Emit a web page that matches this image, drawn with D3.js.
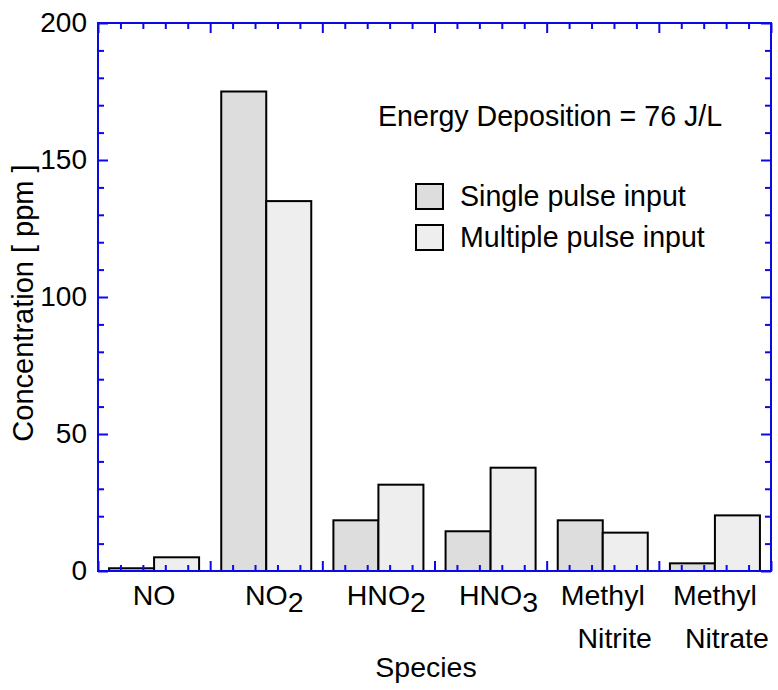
<!DOCTYPE html>
<html><head><meta charset="utf-8">
<script src="https://cdn.jsdelivr.net/npm/d3@7"></script>
<style>body{margin:0;background:#fff} svg{display:block} text{font-family:"Liberation Sans",Arial,Helvetica,sans-serif;fill:#000}</style>
</head><body>
<svg id="chart" width="778" height="690"></svg>
<script>
const categories = ["NO", "NO2", "HNO2", "HNO3", "Methyl Nitrite", "Methyl Nitrate"];
const catBase = ["NO", "NO", "HNO", "HNO", "Methyl", "Methyl"];
const catSub = ["", "2", "2", "3", "", ""];
const catLine2 = ["", "", "", "", "Nitrite", "Nitrate"];
const seriesNames = ["Single pulse input", "Multiple pulse input"];
const singlePulse = [1, 175, 18.5, 14.5, 18.5, 2.8];
const multiplePulse = [5, 135, 31.5, 37.7, 14, 20.3];
const yTicks = [0, 50, 100, 150, 200];
const yMinorTicks = d3.range(0, 201, 10);
const annotation = "Energy Deposition = 76 J/L";
const xTitle = "Species";
const yTitle = "Concentration [ ppm ]";

const svg = d3.select("#chart");
const L = 98, R = 771, T = 23, B = 571;
const blue = "#0a0ae6";
const fills = ["#dddddd", "#eeeeee"];
const series = [singlePulse, multiplePulse];

const y = d3.scaleLinear().domain([0, 200]).range([B, T]);
const x0 = d3.scaleBand().domain(categories).range([L, R]).padding(0);
const x1 = d3.scaleBand().domain([0, 1]).range([0, x0.bandwidth()]).paddingInner(0).paddingOuter(0.246);
const xl = d3.scaleLinear().domain([0, categories.length]).range([L, R]);

// bars
const g = svg.append("g");
categories.forEach((c, i) => {
  series.forEach((s, k) => {
    g.append("rect")
      .attr("x", x0(c) + x1(k))
      .attr("y", y(s[i]))
      .attr("width", x1.bandwidth())
      .attr("height", y(0) - y(s[i]))
      .attr("fill", fills[k])
      .attr("stroke", "#000")
      .attr("stroke-width", 2);
  });
});

// ticks
const xMajor = d3.range(0, categories.length + 1);
const xMinor = d3.range(0, categories.length * 5 + 1).map(d => d / 5).filter(d => Math.abs(d - Math.round(d)) > 1e-9);
const yMinor = yMinorTicks.filter(d => d % 50 !== 0);

function styleAxis(sel) {
  sel.select(".domain").remove();
  sel.selectAll("line").attr("stroke", blue).attr("stroke-width", 2);
}
svg.append("g").attr("transform", `translate(0,${B})`).call(d3.axisBottom(xl).tickValues(xMajor).tickSize(-10).tickFormat("")).call(styleAxis);
svg.append("g").attr("transform", `translate(0,${B})`).call(d3.axisBottom(xl).tickValues(xMinor).tickSize(-6).tickFormat("")).call(styleAxis);
svg.append("g").attr("transform", `translate(0,${T})`).call(d3.axisTop(xl).tickValues(xMajor).tickSize(-10).tickFormat("")).call(styleAxis);
svg.append("g").attr("transform", `translate(0,${T})`).call(d3.axisTop(xl).tickValues(xMinor).tickSize(-6).tickFormat("")).call(styleAxis);
svg.append("g").attr("transform", `translate(${L},0)`).call(d3.axisLeft(y).tickValues(yTicks).tickSize(-10).tickPadding(11).tickFormat(d3.format("d")))
  .call(styleAxis)
  .call(s => s.selectAll("text").attr("font-size", 28).attr("dy", "0.29em").style("font-family", '"Liberation Sans",Arial,sans-serif').attr("fill", "#000"));
svg.append("g").attr("transform", `translate(${L},0)`).call(d3.axisLeft(y).tickValues(yMinor).tickSize(-6).tickFormat("")).call(styleAxis);
svg.append("g").attr("transform", `translate(${R},0)`).call(d3.axisRight(y).tickValues(yTicks).tickSize(-10).tickFormat("")).call(styleAxis);
svg.append("g").attr("transform", `translate(${R},0)`).call(d3.axisRight(y).tickValues(yMinor).tickSize(-6).tickFormat("")).call(styleAxis);

// frame
svg.append("rect").attr("x", L).attr("y", T).attr("width", R - L).attr("height", B - T)
  .attr("fill", "none").attr("stroke", blue).attr("stroke-width", 2);

// category labels
categories.forEach((c, i) => {
  const cx = x0(c) + x0.bandwidth() / 2;
  const t = svg.append("text").attr("x", cx).attr("y", 605).attr("font-size", 28.5).attr("text-anchor", "middle").text(catBase[i]);
  if (catSub[i]) {
    const w = t.node().getComputedTextLength();
    svg.append("text").attr("x", cx + w / 2).attr("y", 612).attr("font-size", 28.5).text(catSub[i]);
  }
  if (catLine2[i]) {
    svg.append("text").attr("x", cx + 12).attr("y", 648).attr("font-size", 28.5).attr("text-anchor", "middle").text(catLine2[i]);
  }
});

// axis titles
svg.append("text").attr("x", 426).attr("y", 677).attr("font-size", 28.5).attr("text-anchor", "middle").text(xTitle);
svg.append("text").attr("transform", "translate(33,303) rotate(-90)").attr("font-size", 29).attr("text-anchor", "middle").text(yTitle);

// annotation
svg.append("text").attr("x", 378).attr("y", 126).attr("font-size", 28.6).text(annotation);

// legend
seriesNames.forEach((n, k) => {
  const ly = [184, 225][k];
  svg.append("rect").attr("x", 416).attr("y", ly).attr("width", 27).attr("height", 25)
    .attr("fill", fills[k]).attr("stroke", "#000").attr("stroke-width", 2);
  svg.append("text").attr("x", 460).attr("y", ly + 22).attr("font-size", 28.6).text(n);
});
</script>
</body></html>
